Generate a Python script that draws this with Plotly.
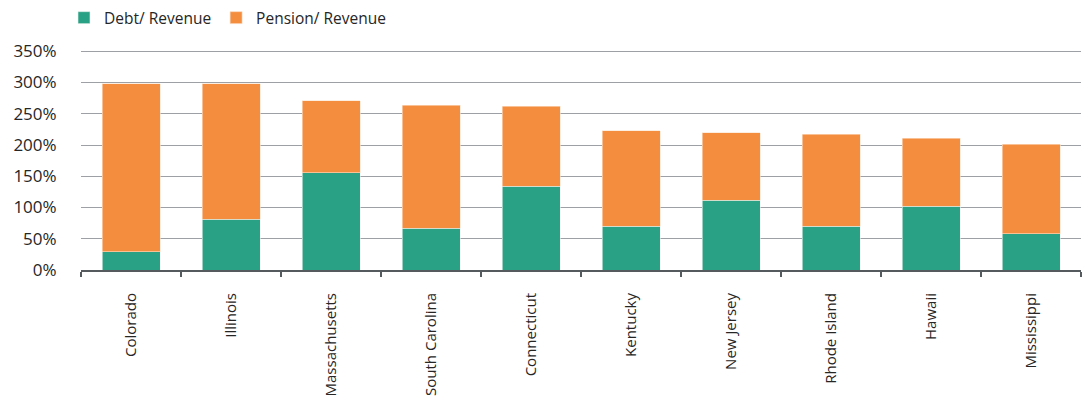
import plotly.graph_objects as go

# State-level debt and pension liabilities, as % of revenue
states = ["Colorado", "Illinois", "Massachusetts", "South Carolina", "Connecticut",
          "Kentucky", "New Jersey", "Rhode Island", "Hawaii", "Mississippi"]
debt_revenue = [29, 81, 156, 67, 134, 70, 112, 70, 102, 58]
pension_revenue = [269, 217, 115, 197, 128, 153, 108, 147, 109, 143]

y_ticks = [0, 50, 100, 150, 200, 250, 300, 350]

GREEN = "#29a184"
ORANGE = "#f48d3d"
FONT = "Open Sans, Noto Sans, sans-serif"
TEXT = "#262626"

fig = go.Figure()
fig.add_trace(go.Bar(
    x=states, y=debt_revenue, name="Debt/ Revenue",
    marker=dict(color=GREEN, line=dict(color="#e9f2ee", width=0.6)),
    width=0.58,
))
fig.add_trace(go.Bar(
    x=states, y=pension_revenue, name="Pension/ Revenue",
    marker=dict(color=ORANGE, line=dict(color="#fbe3cf", width=0.6)),
    width=0.58,
))

fig.update_layout(
    barmode="stack",
    width=1090, height=402,
    margin=dict(l=81, r=9, t=50, b=132, autoexpand=False),
    paper_bgcolor="white", plot_bgcolor="white",
    font=dict(family=FONT, size=15, color=TEXT),
    legend=dict(
        orientation="h",
        x=64 / 1090, y=0.955, xref="container", yref="container",
        xanchor="left", yanchor="middle",
        font=dict(size=15.5, color=TEXT),
        itemwidth=30, traceorder="normal",
        bgcolor="rgba(0,0,0,0)",
    ),
    showlegend=True,
)

fig.update_xaxes(
    type="category",
    tickangle=-90,
    automargin=False,
    showline=True, linecolor="#555a5f", linewidth=2,
    ticks="outside", tickson="boundaries", ticklen=5, tickcolor="#555a5f", tickwidth=1.5,
    showgrid=False,
    ticklabelstandoff=15,
    tickfont=dict(size=15, color=TEXT),
)
fig.update_yaxes(
    range=[0, 352],
    automargin=False,
    tickvals=y_ticks,
    ticktext=[f"{v}%" for v in y_ticks],
    showgrid=True, gridcolor="#9da1a6", gridwidth=1.3,
    zeroline=False, showline=False,
    ticks="outside", ticklen=20, tickcolor="rgba(0,0,0,0)",
    tickfont=dict(size=17, color=TEXT),
)

fig.write_html("out.html")
